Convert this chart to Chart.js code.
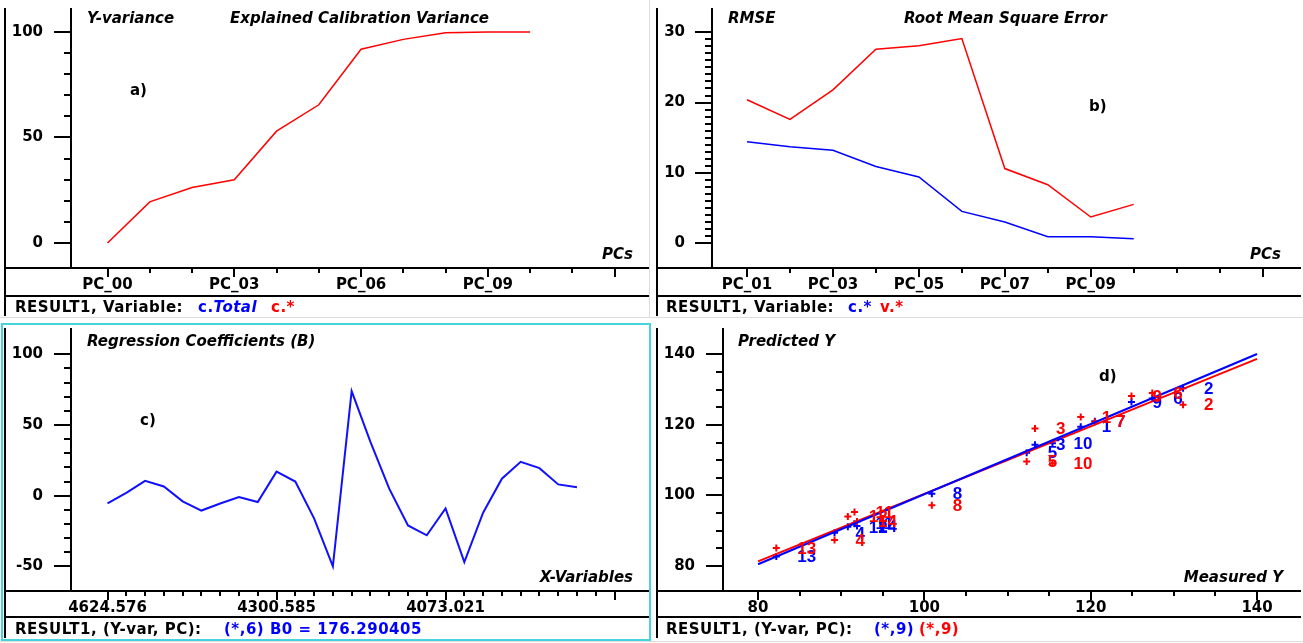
<!DOCTYPE html>
<html>
<head>
<meta charset="utf-8">
<script src="https://cdn.jsdelivr.net/npm/chart.js@4.4.1/dist/chart.umd.min.js"></script>
<style>
body{margin:0;background:#fff;width:1303px;height:643px;position:relative;overflow:hidden;font-family:"DejaVu Sans",sans-serif;}
canvas{position:absolute;}
.t{position:absolute;white-space:nowrap;font-weight:bold;font-size:15px;line-height:18px;margin-top:-9px;color:#000;}
.i{font-style:italic;}
.st{letter-spacing:.5px;}
.sep{position:absolute;background:#dcdcdc;}
</style>
</head>
<body>
<div class="sep" style="left:0;top:317px;width:1303px;height:1px"></div>
<div class="sep" style="left:649px;top:0;width:1px;height:318px"></div>
<div class="sep" style="left:0;top:641px;width:1303px;height:1px"></div>
<div style="position:absolute;left:1px;top:323px;width:646px;height:314px;border:2px solid #48d4dc"></div>

<canvas id="ca" width="645" height="318" style="left:4px;top:0"></canvas>
<canvas id="cb" width="645" height="318" style="left:656px;top:0"></canvas>
<canvas id="cc" width="645" height="320" style="left:4px;top:320px"></canvas>
<canvas id="cd" width="645" height="320" style="left:656px;top:320px"></canvas>

<!-- titles and notes -->
<div class="t i" style="left:87px;top:18px">Y-variance</div>
<div class="t i" style="left:230px;top:18px">Explained Calibration Variance</div>
<div class="t" style="left:130px;top:90px">a)</div>
<div class="t i" style="right:670px;top:254px">PCs</div>

<div class="t i" style="left:728px;top:18px">RMSE</div>
<div class="t i" style="left:904px;top:18px">Root Mean Square Error</div>
<div class="t" style="left:1089px;top:106px">b)</div>
<div class="t i" style="right:22px;top:254px">PCs</div>

<div class="t i" style="left:87px;top:341px">Regression Coefficients (B)</div>
<div class="t" style="left:140px;top:420px">c)</div>
<div class="t i" style="right:670px;top:577px">X-Variables</div>

<div class="t i" style="left:738px;top:341px">Predicted Y</div>
<div class="t" style="left:1099px;top:376px">d)</div>
<div class="t i" style="right:20px;top:577px">Measured Y</div>

<!-- status bars -->
<div class="t st" style="left:15px;top:307px">RESULT1, Variable:</div>
<div class="t st" style="left:198px;top:307px;color:#0000ff">c.<i>Total</i></div>
<div class="t st" style="left:271px;top:307px;color:#ff0000">c.*</div>

<div class="t st" style="left:666px;top:307px">RESULT1, Variable:</div>
<div class="t st" style="left:848px;top:307px;color:#0000ff">c.*</div>
<div class="t st" style="left:880px;top:307px;color:#ff0000">v.*</div>

<div class="t st" style="left:15px;top:629px">RESULT1, (Y-var, PC):</div>
<div class="t st" style="left:224px;top:629px;color:#0000ff">(*,6) B0 = 176.290405</div>

<div class="t st" style="left:666px;top:629px">RESULT1, (Y-var, PC):</div>
<div class="t st" style="left:874px;top:629px;color:#0000ff">(*,9)</div>
<div class="t st" style="left:919px;top:629px;color:#ff0000">(*,9)</div>

<script>
// a) explained calibration variance
var pcA = ['PC_00','PC_01','PC_02','PC_03','PC_04','PC_05','PC_06','PC_07','PC_08','PC_09','PC_10'];
var varianceA = [0, 19.5, 26.3, 30, 53, 65.5, 91.8, 96.5, 99.6, 100, 100];

// b) RMSE
var pcB = ['PC_01','PC_02','PC_03','PC_04','PC_05','PC_06','PC_07','PC_08','PC_09','PC_10'];
var rmseCal = [14.4, 13.7, 13.2, 10.9, 9.4, 4.5, 3.0, 0.9, 0.9, 0.6];
var rmseVal = [20.4, 17.6, 21.8, 27.6, 28.1, 29.1, 10.6, 8.3, 3.7, 5.5];

// c) regression coefficients
var coefB = [-5.5, 2, 10.5, 6.5, -4, -10.5, -5.5, -1, -4.5, 17, 10, -16, -50, 74, 38, 5, -21, -28, -9, -47, -12, 12, 24, 19.5, 8, 6];
var coefTickPos = [0, 9, 18];
var coefTickText = ['4624.576', '4300.585', '4073.021'];

// d) predicted vs measured
var sampleNames = ['1','2','3','4','5','6','7','8','9','10','11','12','13','14'];
var measuredY = [118.8, 131.1, 113.3, 89.2, 112.3, 127.4, 120.5, 100.9, 124.9, 115.4, 91.6, 90.8, 82.2, 91.9];
var predCal   = [119.5, 130.4, 114.4, 89.4, 112.1, 127.5, 121.0, 100.5, 126.5, 114.8, 92.0, 91.1, 82.7, 91.3];
var predVal   = [122.2, 125.7, 119.0, 87.4, 109.6, 129.0, 120.9, 97.2, 128.2, 109.1, 95.3, 94.0, 85.1, 92.6];
var fitX = [80, 140];
var fitCal = [80.5, 140.1];
var fitVal = [81.3, 138.7];

Chart.defaults.font.family = '"DejaVu Sans", sans-serif';
Chart.defaults.font.weight = 'bold';
Chart.defaults.font.size = 15;
Chart.defaults.color = '#000';

function range(a, b, s) { var r = []; for (var v = a; v <= b + 1e-9; v += s) r.push(+v.toFixed(6)); return r; }

// axis frame, tick marks (major longer) and panel lines
var frame = {
  id: 'frame',
  afterDraw: function(chart) {
    var ctx = chart.ctx, a = chart.chartArea, x = chart.scales.x, y = chart.scales.y;
    ctx.save();
    ctx.strokeStyle = '#000';
    ctx.lineWidth = 2;
    ctx.beginPath();
    ctx.moveTo(1, a.top); ctx.lineTo(1, chart.height - 2);
    ctx.moveTo(a.left, a.top); ctx.lineTo(a.left, a.bottom);
    ctx.moveTo(0, a.bottom); ctx.lineTo(chart.width, a.bottom);
    ctx.moveTo(0, x.bottom); ctx.lineTo(chart.width, x.bottom);
    y.ticks.forEach(function(t) {
      var p = Math.round(y.getPixelForValue(t.value));
      ctx.moveTo(a.left - (t.major ? 17 : 7), p); ctx.lineTo(a.left, p);
    });
    x.ticks.forEach(function(t) {
      var p = Math.round(x.getPixelForValue(t.value));
      ctx.moveTo(p, a.bottom); ctx.lineTo(p, a.bottom + (t.major ? 9 : 5));
    });
    ctx.stroke();
    ctx.restore();
  }
};

// sample names right of the markers (blue first, red on top)
var names = {
  id: 'names',
  afterDatasetsDraw: function(chart) {
    var ctx = chart.ctx, sets = chart.data.datasets;
    ctx.save();
    ctx.font = 'bold 17px "Liberation Sans"';
    ctx.textBaseline = 'middle';
    for (var i = sets.length - 1; i >= 0; i--) {
      var ds = sets[i];
      if (!ds.names) continue;
      ctx.fillStyle = ds.borderColor;
      chart.getDatasetMeta(i).data.forEach(function(pt, j) {
        ctx.fillText(ds.names[j], pt.x + 21, pt.y + 1);
      });
    }
    ctx.restore();
  }
};

function panel(id, c) {
  return new Chart(document.getElementById(id), {
    type: c.type || 'line',
    data: { datasets: c.datasets },
    options: {
      responsive: false, animation: false, devicePixelRatio: 1,
      layout: { padding: { top: 8, right: 1, bottom: c.padBottom, left: 0 } },
      plugins: { legend: { display: false }, tooltip: { enabled: false } },
      scales: {
        x: {
          type: 'linear', min: c.xMin, max: c.xMax, bounds: 'data',
          grid: { display: false, drawTicks: false }, border: { display: false },
          afterFit: function(s) { s.height = c.xHeight; s.paddingLeft = 0; s.paddingRight = 0; },
          afterBuildTicks: function(s) { s.ticks = c.xTicks.map(function(v) { return { value: v, major: c.xMajor(v) }; }); },
          ticks: { autoSkip: false, maxRotation: 0, minRotation: 0, padding: 8, callback: c.xLabel }
        },
        y: {
          type: 'linear', min: c.yMin, max: c.yMax, bounds: 'data',
          grid: { display: false, drawTicks: false }, border: { display: false },
          afterFit: function(s) { s.width = c.yWidth; s.paddingTop = 0; s.paddingBottom = 0; },
          afterBuildTicks: function(s) { s.ticks = c.yTicks.map(function(v) { return { value: v, major: c.yMajor(v) }; }); },
          ticks: { autoSkip: false, padding: c.yPad || 28, callback: function(v) { return c.yMajor(v) ? String(v) : ''; } }
        }
      }
    },
    plugins: [frame, names]
  });
}

function lineSet(xs, ys, color, w) {
  return { data: ys.map(function(v, i) { return { x: xs[i], y: v }; }), borderColor: color, borderWidth: w || 1.5,
           pointRadius: 0, tension: 0, fill: false };
}

// a)
panel('ca', {
  padBottom: 22, xHeight: 28, yWidth: 67,
  xMin: -0.864, xMax: 12.79, yMin: -11.85, yMax: 111.37,
  xTicks: range(0, 12, 1), xMajor: function(v) { return v % 3 === 0; },
  xLabel: function(v) { return (v % 3 === 0 && pcA[v]) ? pcA[v] : ''; },
  yTicks: range(0, 100, 10), yMajor: function(v) { return v % 50 === 0; },
  datasets: [lineSet(pcA.map(function(p, i) { return i; }), varianceA, '#ff0000')]
});

// b)
panel('cb', {
  padBottom: 22, xHeight: 28, yWidth: 56, yPad: 27,
  xMin: 0.185, xMax: 13.87, yMin: -3.56, yMax: 33.46,
  xTicks: range(1, 13, 1), xMajor: function(v) { return (v % 2 === 1 && v <= 9) || v === 13; },
  xLabel: function(v) { return (v % 2 === 1 && pcB[v - 1]) ? pcB[v - 1] : ''; },
  yTicks: range(0, 30, 1), yMajor: function(v) { return v % 10 === 0; },
  datasets: [
    lineSet(pcB.map(function(p, i) { return i + 1; }), rmseVal, '#ff0000'),
    lineSet(pcB.map(function(p, i) { return i + 1; }), rmseCal, '#0000ff')
  ]
});

// c)
panel('cc', {
  padBottom: 23, xHeight: 26, yWidth: 67,
  xMin: -1.944, xMax: 28.78, yMin: -67.4, yMax: 118.6,
  xTicks: range(0, 27, 1), xMajor: function(v) { return v % 9 === 0; },
  xLabel: function(v) { var k = coefTickPos.indexOf(v); return k >= 0 ? coefTickText[k] : ''; },
  yTicks: range(-50, 100, 10), yMajor: function(v) { return v % 50 === 0; },
  datasets: [lineSet(coefB.map(function(b, i) { return i; }), coefB, '#1010ff', 2)]
});

// d)
function markers(ys, color) {
  return { data: ys.map(function(v, i) { return { x: measuredY[i], y: v }; }), names: sampleNames,
           borderColor: color, backgroundColor: color, pointStyle: 'cross', pointRadius: 3.5, borderWidth: 2, showLine: false };
}
var blueFit = lineSet(fitX, fitCal, '#0000ff', 2); blueFit.showLine = true;
var redFit = lineSet(fitX, fitVal, '#ff0000', 2); redFit.showLine = true;
panel('cd', {
  type: 'scatter',
  padBottom: 23, xHeight: 26, yWidth: 67,
  xMin: 75.79, xMax: 144.56, yMin: 72.91, yMax: 147.46,
  xTicks: range(80, 140, 5), xMajor: function(v) { return v % 20 === 0; },
  xLabel: function(v) { return v % 20 === 0 ? String(v) : ''; },
  yTicks: range(80, 140, 5), yMajor: function(v) { return v % 20 === 0; },
  datasets: [blueFit, redFit, markers(predVal, '#ff0000'), markers(predCal, '#0000ff')]
});
</script>
</body>
</html>
